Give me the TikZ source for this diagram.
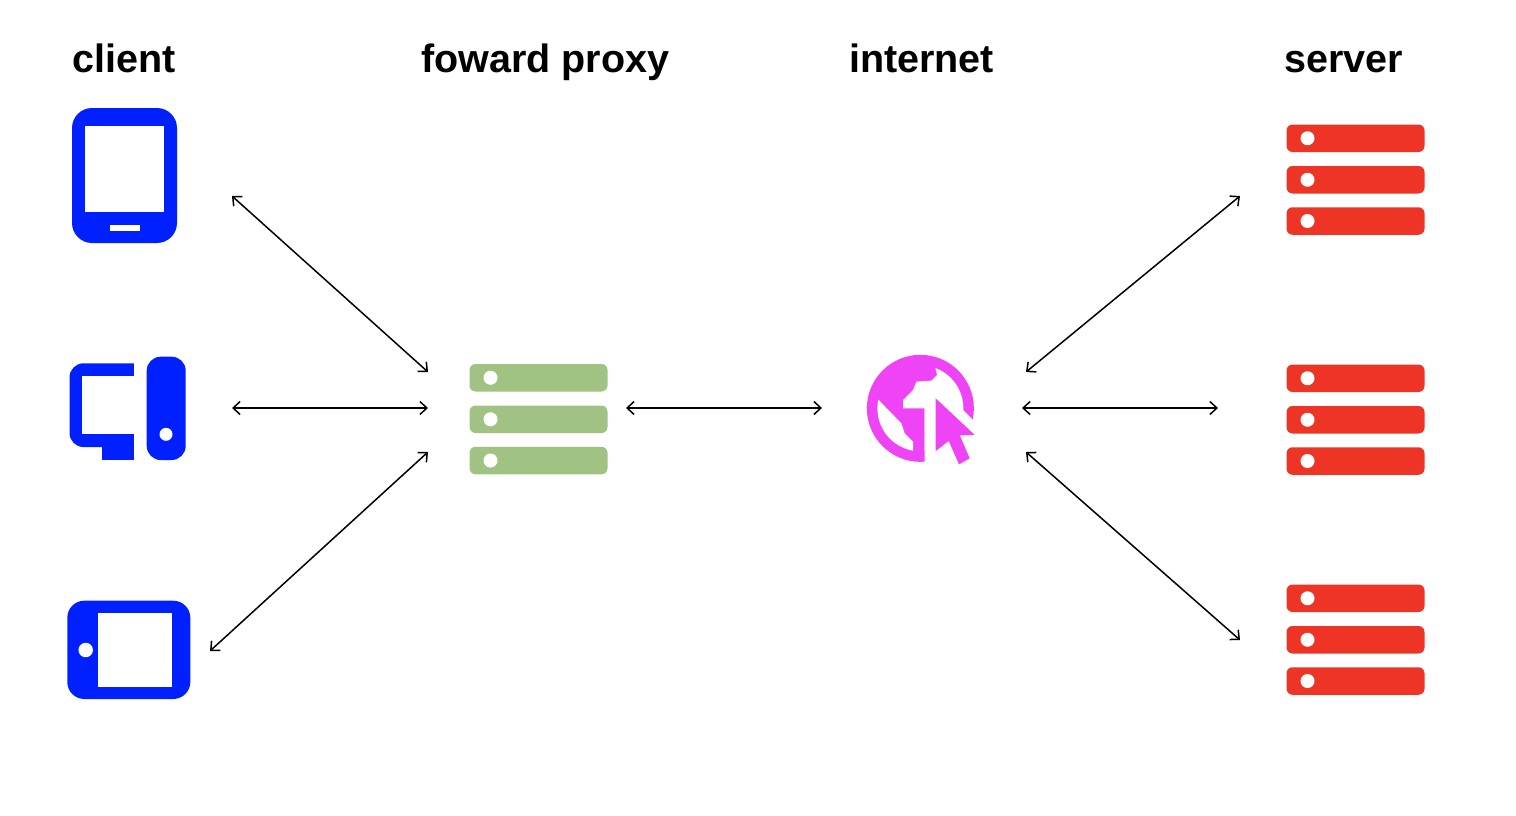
\documentclass[tikz,border=0pt]{standalone}
\usepackage{fontspec}
\setmainfont{Liberation Sans}
\usetikzlibrary{arrows.meta}
\definecolor{devblue}{HTML}{0020FF}
\definecolor{proxygreen}{HTML}{A0C384}
\definecolor{serverred}{HTML}{EE3424}
\definecolor{globepink}{HTML}{EE44F5}
\tikzset{
  x=1pt,y=-1pt,
  heading/.style={anchor=base west,inner sep=0pt,font=\fontsize{39.5}{39.5}\selectfont\bfseries,text=black},
  link/.style={{Straight Barb[length=7pt,width=13pt,line width=1.5pt]}-{Straight Barb[length=7pt,width=13pt,line width=1.5pt]},line width=1.5pt,black},
  rackbar/.style={rectangle,rounded corners=6pt,minimum width=138pt,minimum height=27.5pt,inner sep=0pt,draw=none},
  dot/.style={circle,fill=white,draw=none,inner sep=0pt,minimum size=#1},
  blueshape/.style={fill=devblue,draw=none},
  whiteshape/.style={fill=white,draw=none},
  pics/rack/.style={code={
    \node[rackbar,fill=#1] (-a) at (69,13.75) {};
    \node[rackbar,fill=#1] (-b) at (69,55.25) {};
    \node[rackbar,fill=#1] (-c) at (69,96.5) {};
    \node[dot=14pt] (-da) at (21,13.75) {};
    \node[dot=14pt] (-db) at (21,55.25) {};
    \node[dot=14pt] (-dc) at (21,96.5) {};
  }}
}
\begin{document}
\begin{tikzpicture}
\useasboundingbox (0,0) rectangle (1516,816);
% headings
\node[heading] (hclient) at (72,73) {client};
\node[heading] (hproxy) at (421,73) {foward proxy};
\node[heading] (hnet) at (849,73) {internet};
\node[heading] (hserver) at (1284,73) {server};
% portrait tablet
\fill[blueshape,rounded corners=20pt] (72,108) rectangle (177,243);
\fill[whiteshape] (85,126) rectangle (164,212);
\fill[whiteshape] (109.5,224.5) rectangle (139.5,231);
% desktop
\fill[blueshape,rounded corners=14pt] (69.5,363.3) rectangle (150,447);
\fill[blueshape] (101.7,440) rectangle (134,460);
\fill[whiteshape] (82.3,376) rectangle (146.7,434.3);
\fill[whiteshape] (134,360) rectangle (146.7,461);
\fill[blueshape,rounded corners=14pt] (146.7,356.7) rectangle (185.7,460);
\node[dot=13pt] (towerdot) at (166,434.3) {};
% landscape tablet
\fill[blueshape,rounded corners=17pt] (67.3,600.7) rectangle (190.3,699);
\fill[whiteshape] (98,613) rectangle (172,687);
\node[dot=14.5pt] (tabdot) at (85.7,650) {};
% racks
\pic (proxy) at (469.5,364) {rack=proxygreen};
\pic (srvA) at (1286.5,124.5) {rack=serverred};
\pic (srvB) at (1286.5,364.5) {rack=serverred};
\pic (srvC) at (1286.5,584.5) {rack=serverred};
% globe with cursor
\begin{scope}[shift={(849.7,340)},x=0.33333pt,y=-0.33333pt]
  \fill[globepink] (212,205) circle[radius=53.5pt];
  \begin{scope}
    \clip (212,205) circle[radius=43pt];
    \fill[whiteshape] (258,40) -- (258,88) -- (262,105) -- (245,122) -- (200,125) -- (190,150) -- (160,180) -- (160,205) -- (225,205) -- (225,420) -- (420,420) -- (420,40) -- cycle;
    \fill[whiteshape] (0,178) -- (85,178) -- (155,250) -- (165,280) -- (190,305) -- (190,420) -- (0,420) -- cycle;
  \end{scope}
  \fill[whiteshape] (225,205) -- (340,210) -- (365,235) -- (420,290) -- (420,420) -- (225,420) -- cycle;
  \fill[globepink] (258,175) -- (375,285) -- (330,285) -- (360,355) -- (328,373) -- (297,303) -- (258,333) -- cycle;
\end{scope}
% connector ends
\coordinate (c1) at (232,196);
\coordinate (c2) at (232,408);
\coordinate (c3) at (210,651);
\coordinate (p1) at (428,372);
\coordinate (p2) at (428,408);
\coordinate (p3) at (428,452);
\coordinate (pr) at (626,408);
\coordinate (nl) at (822,408);
\coordinate (n1) at (1026,372);
\coordinate (n2) at (1022,408);
\coordinate (n3) at (1026,452);
\coordinate (s1) at (1240,196);
\coordinate (s2) at (1218,408);
\coordinate (s3) at (1240,640);
\draw[link] (c1) -- (p1);
\draw[link] (c2) -- (p2);
\draw[link] (c3) -- (p3);
\draw[link] (pr) -- (nl);
\draw[link] (n1) -- (s1);
\draw[link] (n2) -- (s2);
\draw[link] (n3) -- (s3);
\end{tikzpicture}
\end{document}
